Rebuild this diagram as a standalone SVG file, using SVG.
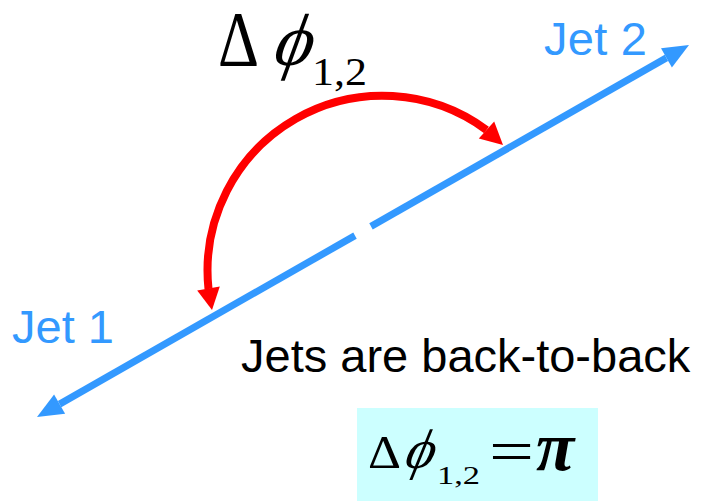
<svg xmlns="http://www.w3.org/2000/svg" width="704" height="501" viewBox="0 0 704 501">
<style>
.jet{font-family:"Liberation Sans",Arial,sans-serif;font-size:47px;fill:#3399ff}
.lbl{font-family:"Liberation Sans",Arial,sans-serif;font-size:47px;fill:#000}
.m{font-family:"Liberation Serif","DejaVu Serif",serif;fill:#000}
.it{font-style:italic}
.blue{stroke:#3399ff;stroke-width:7;fill:none}
.red{stroke:#ff0000;stroke-width:8;fill:none}
</style>
<rect x="0" y="0" width="704" height="501" fill="#ffffff"/>
<g id="connectors">
  <g id="jet-axis">
    <line class="blue" x1="59.6" y1="404.1" x2="355" y2="235.6"/>
    <line class="blue" x1="371" y1="226.4" x2="666.4" y2="57.9"/>
    <polygon points="689,45 661,48.3 671.9,67.5" fill="#3399ff"/>
    <polygon points="37,417 54.1,394.5 65.1,413.7" fill="#3399ff"/>
  </g>
  <g id="dphi-arc">
    <path class="red" d="M 208.5 289 A 175 175 0 0 1 486.5 130"/>
    <polygon points="212,310 197.2,290.4 219.8,286.6" fill="#ff0000"/>
    <polygon points="503,145 494.2,121.5 478.8,138.5" fill="#ff0000"/>
  </g>
</g>
<g id="jet1"><text class="jet" x="12" y="343">Jet 1</text></g>
<g id="jet2"><text class="jet" x="544" y="55" textLength="103" lengthAdjust="spacing">Jet 2</text></g>
<g id="dphi-label">
  <text class="m" x="218" y="65" font-size="78" textLength="41" lengthAdjust="spacingAndGlyphs">Δ</text>
  <text class="m" transform="translate(269,65) skewX(-20)" x="0" y="0" font-size="74">ϕ</text>
  <text class="m" x="312" y="85" font-size="41" textLength="55" lengthAdjust="spacingAndGlyphs">1,2</text>
</g>
<g id="caption"><text class="lbl" x="241" y="372">Jets are back-to-back</text></g>
<g id="formula">
  <rect x="357" y="408" width="241" height="93" fill="#ccffff"/>
  <text class="m" x="368" y="468" font-size="47" textLength="33" lengthAdjust="spacingAndGlyphs">Δ</text>
  <text class="m" transform="translate(401,468) skewX(-22)" x="0" y="0" font-size="56">ϕ</text>
  <text class="m" x="437" y="484" font-size="25" textLength="43" lengthAdjust="spacingAndGlyphs">1,2</text>
  <text class="m" x="489" y="472" font-size="62" textLength="45" lengthAdjust="spacingAndGlyphs">=</text>
  <text class="m it" x="536" y="470" font-size="70" font-weight="bold">π</text>
</g>
</svg>
